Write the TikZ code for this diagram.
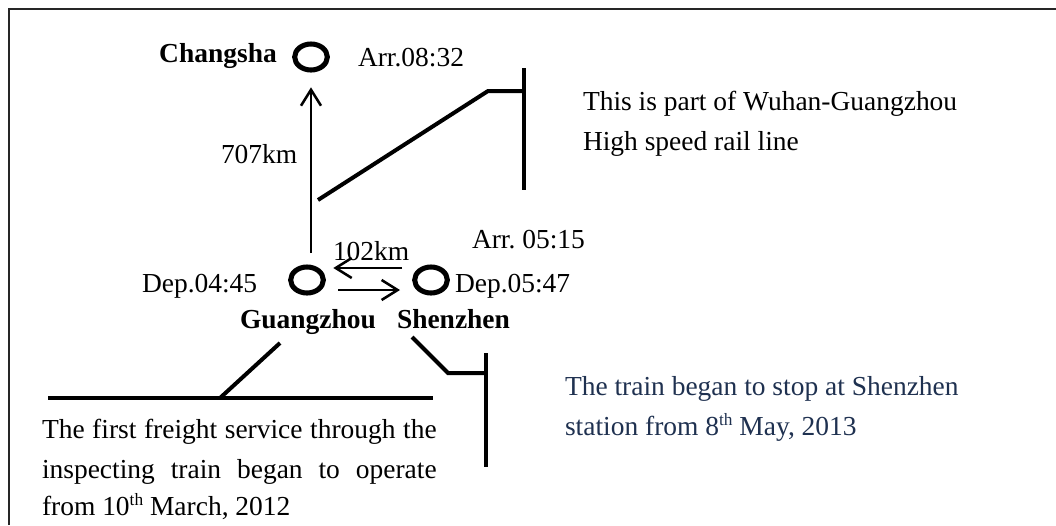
\documentclass[tikz,border=0pt]{standalone}
\usepackage{fontspec}
\setmainfont{Liberation Serif}
\usetikzlibrary{arrows.meta,shapes.geometric}
\definecolor{navy}{HTML}{1F3150}
\frenchspacing
\newcommand{\ordsup}[1]{\raisebox{7pt}{\fontsize{13pt}{13pt}\selectfont #1}}
\begin{document}
\begin{tikzpicture}[x=0.75pt,y=-0.75pt,
  every node/.style={inner sep=0pt, outer sep=0pt, font=\fontsize{20.6pt}{24pt}\selectfont},
  station/.style={draw, ellipse, minimum width=24.5pt, minimum height=19.5pt, line width=3.8pt},
  arr/.style={line width=1.9pt, -{Straight Barb[length=12pt,width=15pt,line width=1.9pt]}},
  pointer/.style={line width=3pt},
  lbl/.style={anchor=base west},
  frame/.style={line width=1.8pt, black!85}
]
\useasboundingbox (0,0) rectangle (1056,525);
\coordinate (f1) at (9,525);
\coordinate (f2) at (9,9);
\coordinate (f3) at (1056,9);
\draw[frame] (f1) -- (f2) -- (f3);

% stations
\node[station] (cs) at (311,57) {};
\node[station] (gz) at (307,280) {};
\node[station] (sz) at (431,280) {};

\node[anchor=base] (csl) at (218,62) {\bfseries Changsha};
\node[lbl] (csarr) at (358,66) {Arr.08:32};
\node[lbl] (gzl) at (240,328) {\bfseries Guangzhou};
\node[lbl] (szl) at (397,328) {\bfseries Shenzhen};
\node[lbl] (gzdep) at (142,292) {Dep.04:45};
\node[lbl] (szarr) at (472,248) {Arr. 05:15};
\node[lbl] (szdep) at (455,292) {Dep.05:47};
\node[lbl] (d707) at (221,163) {707km};
\node[lbl] (d102) at (333,260) {102km};

% connectors
\draw[arr, shorten <=10.5pt, shorten >=13pt] (cs.south |- gz.north) -- (cs.south);
\draw[arr, shorten <=9.5pt, shorten >=7.5pt] ([yshift=9pt]sz.west) -- ([yshift=9pt]gz.east);
\draw[arr, shorten <=11pt, shorten >=11pt] ([yshift=-7.5pt]gz.east) -- ([yshift=-7.5pt]sz.west);

% HSR note
\coordinate (h1) at (318,200);
\coordinate (h2) at (488,91);
\coordinate (h3) at (524,91);
\coordinate (hb1) at (524,68);
\coordinate (hb2) at (524,190);
\draw[pointer] (h1) -- (h2) -- (h3);
\draw[pointer] (hb1) -- (hb2);
\node[lbl] (hsr1) at (583,110) {This is part of Wuhan-Guangzhou};
\node[lbl] (hsr2) at (583,150) {High speed rail line};

% freight note
\coordinate (g1) at (280,343);
\coordinate (g2) at (220,398);
\coordinate (gl1) at (48,398);
\coordinate (gl2) at (433,398);
\draw[pointer] (g1) -- (g2);
\draw[pointer] (gl1) -- (gl2);
\node[lbl] (fr1) at (42,438) {\makebox[296pt][s]{The first freight service through the}};
\node[lbl] (fr2) at (42,478) {\makebox[296pt][s]{inspecting train began to operate}};
\node[lbl] (fr3) at (42,515) {from 10\ordsup{th} March, 2012};

% Shenzhen note
\coordinate (s1) at (412,337);
\coordinate (s2) at (448,373);
\coordinate (s3) at (486,373);
\coordinate (sb1) at (486,353);
\coordinate (sb2) at (486,467);
\draw[pointer] (s1) -- (s2) -- (s3);
\draw[pointer] (sb1) -- (sb2);
\node[lbl, text=navy] (sn1) at (565,395) {The train began to stop at Shenzhen};
\node[lbl, text=navy] (sn2) at (565,435) {station from 8\ordsup{th} May, 2013};
\end{tikzpicture}
\end{document}
